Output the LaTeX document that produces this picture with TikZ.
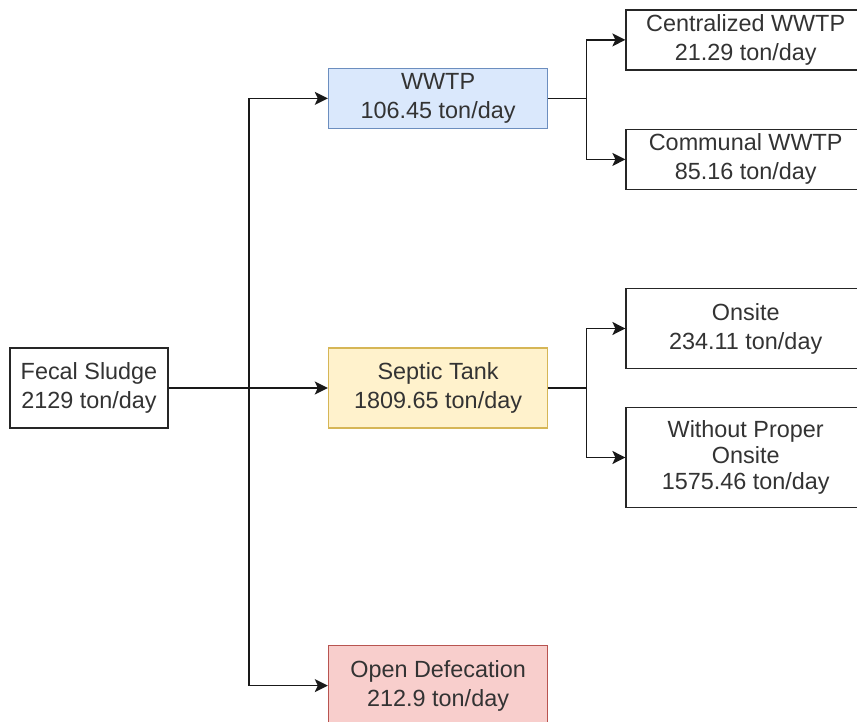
\documentclass[tikz,border=0pt]{standalone}
\usepackage{fontspec}
\setmainfont{Liberation Sans}
\usepackage{xcolor}
\usetikzlibrary{arrows.meta,positioning}
\definecolor{wwtpblue}{HTML}{DAE8FC}
\definecolor{wwtpline}{HTML}{6C8EBF}
\definecolor{septicyellow}{HTML}{FFF2CC}
\definecolor{septicline}{HTML}{D6B656}
\definecolor{openred}{HTML}{F8CECC}
\definecolor{openline}{HTML}{B85450}

\begin{document}
\begin{tikzpicture}[
    box/.style={rectangle, draw=black!85, line width=0.8pt, fill=white,
                align=center, inner sep=2pt, text=black!80,
                font=\fontsize{11.7}{14.5}\selectfont},
    mid/.style={box, minimum width=109.5pt},
    leaf/.style={box, minimum width=119.5pt},
    link/.style={line width=0.85pt, color=black!90},
    arrow/.style={link, -{Stealth[length=6.5pt, width=6.5pt, inset=1.5pt]}}
  ]
    \useasboundingbox (-44.5pt,-167pt) rectangle (384pt,194pt);

    \node[box, minimum width=79pt, minimum height=40pt] (sludge)
      {Fecal Sludge\\2129 ton/day};

    \node[mid, minimum height=40pt, fill=septicyellow, draw=septicline,
          right=79.5pt of sludge] (septic)
      {Septic Tank\\1809.65 ton/day};

    \node[mid, minimum height=30pt, fill=wwtpblue, draw=wwtpline,
          above=109pt of septic] (wwtp)
      {WWTP\\106.45 ton/day};

    \node[mid, minimum height=40pt, fill=openred, draw=openline,
          below=108pt of septic] (open)
      {Open Defecation\\212.9 ton/day};

    \node[leaf, minimum height=30pt, right=38.5pt of wwtp, yshift=29.25pt] (central)
      {Centralized WWTP\\21.29 ton/day};

    \node[leaf, minimum height=30pt, right=38.5pt of wwtp, yshift=-30.5pt] (communal)
      {Communal WWTP\\85.16 ton/day};

    \node[leaf, minimum height=40pt, right=38.5pt of septic, yshift=29.75pt] (onsite)
      {Onsite\\234.11 ton/day};

    \node[leaf, minimum height=50pt, right=38.5pt of septic, yshift=-34.75pt,
          font=\fontsize{11.7}{13}\selectfont] (improper)
      {Without Proper\\Onsite\\1575.46 ton/day};

    % branch points
    \coordinate[right=40pt of sludge] (fork);
    \coordinate[right=19pt of wwtp] (wwtpfork);
    \coordinate[right=19pt of septic] (septicfork);

    \draw[arrow] (sludge) -- (septic);
    \draw[arrow] (fork) |- (wwtp);
    \draw[arrow] (fork) |- (open);

    \draw[link] (wwtp) -- (wwtpfork);
    \draw[arrow] (wwtpfork) |- (central);
    \draw[arrow] (wwtpfork) |- (communal);

    \draw[link] (septic) -- (septicfork);
    \draw[arrow] (septicfork) |- (onsite);
    \draw[arrow] (septicfork) |- (improper);
  \end{tikzpicture}
\end{document}
